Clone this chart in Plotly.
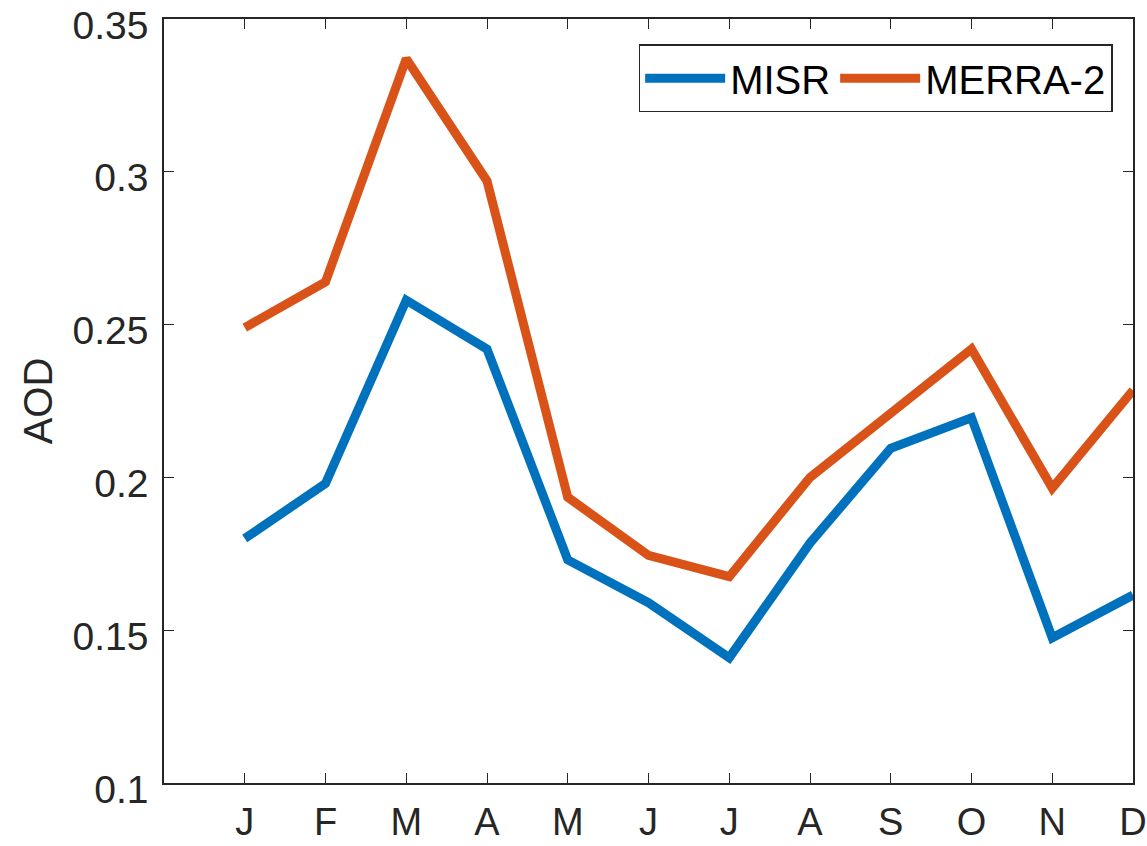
import plotly.graph_objects as go

months = ["J", "F", "M", "A", "M", "J", "J", "A", "S", "O", "N", "D"]
month_pos = [1, 2, 3, 4, 5, 6, 7, 8, 9, 10, 11, 12]
misr = [0.180, 0.198, 0.258, 0.242, 0.173, 0.159, 0.141, 0.1785, 0.2095, 0.2195, 0.1475, 0.1615]
merra2 = [0.249, 0.264, 0.337, 0.297, 0.1935, 0.1745, 0.1675, 0.200, 0.221, 0.242, 0.1965, 0.2285]
y_ticks = [0.1, 0.15, 0.2, 0.25, 0.3, 0.35]

FONT = "Liberation Sans, Arial, sans-serif"
AX = "#262626"
FS = 40

fig = go.Figure()
fig.add_trace(go.Scatter(x=month_pos, y=misr, mode="lines", name="MISR",
                         line=dict(color="#0072BD", width=9)))
fig.add_trace(go.Scatter(x=month_pos, y=merra2, mode="lines", name="MERRA-2",
                         line=dict(color="#D95319", width=9)))

fig.update_layout(
    width=1147, height=846,
    margin=dict(l=164, r=14, t=19, b=63, autoexpand=False),
    paper_bgcolor="white", plot_bgcolor="white",
    font=dict(family=FONT, size=FS, color=AX),
    showlegend=True,
    legend=dict(orientation="h", x=0.979, xanchor="right", y=0.967, yanchor="top",
                bordercolor=AX, borderwidth=1.5, bgcolor="white",
                font=dict(family=FONT, size=FS, color="black"),
                itemwidth=80, tracegroupgap=0),
)
fig.update_xaxes(range=[0, 12], tickvals=month_pos, ticktext=months, automargin=False,
                 showgrid=False, zeroline=False, showline=True, linecolor=AX, linewidth=1.5,
                 mirror="ticks", ticks="inside", ticklen=10, tickwidth=1.2, tickcolor=AX,
                 tickfont=dict(family=FONT, size=38, color=AX), ticklabelstandoff=5,
                 ticklabeloverflow="allow")
fig.update_yaxes(range=[0.1, 0.35], tickvals=y_ticks, automargin=False,
                 showgrid=False, zeroline=False, showline=True, linecolor=AX, linewidth=1.5,
                 mirror="ticks", ticks="inside", ticklen=10, tickwidth=1.2, tickcolor=AX,
                 tickfont=dict(family=FONT, size=39, color=AX), ticklabelstandoff=6,
                 ticklabelshift=6, ticklabeloverflow="allow",
                 title=dict(text="AOD", font=dict(family=FONT, size=FS, color=AX), standoff=8))

fig.write_html("out.html", config={"displayModeBar": False},
               post_script="document.body.style.margin='0px';")
